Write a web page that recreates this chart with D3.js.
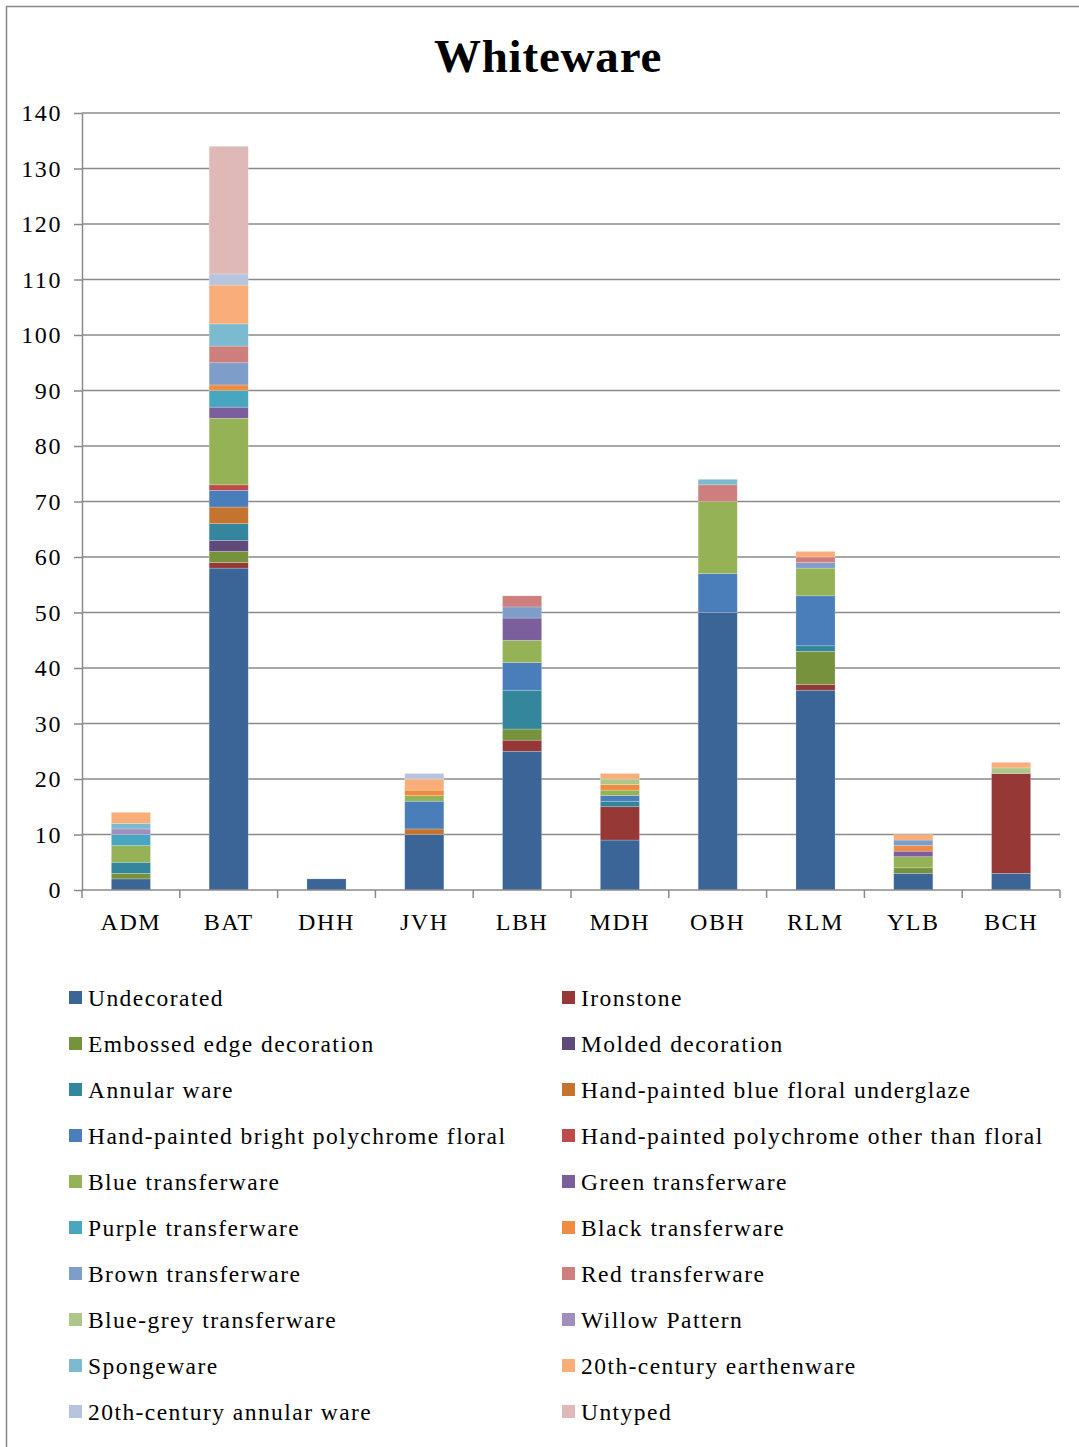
<!DOCTYPE html>
<html>
<head>
<meta charset="utf-8">
<script src="https://cdnjs.cloudflare.com/ajax/libs/d3/7.8.5/d3.min.js"></script>
<style>
  body { margin: 0; background: #fff; }
  svg text { font-family: "Liberation Serif", "Times New Roman", serif; fill: #000; }
</style>
</head>
<body>
<div id="chart"></div>
<script>
// categories (sites)
const sites = ["ADM","BAT","DHH","JVH","LBH","MDH","OBH","RLM","YLB","BCH"];

// ware types, in stacking order
const wares = [
  "Undecorated","Ironstone","Embossed edge decoration","Molded decoration",
  "Annular ware","Hand-painted blue floral underglaze","Hand-painted bright polychrome floral",
  "Hand-painted polychrome other than floral","Blue transferware","Green transferware",
  "Purple transferware","Black transferware","Brown transferware","Red transferware",
  "Blue-grey transferware","Willow Pattern","Spongeware","20th-century earthenware",
  "20th-century annular ware","Untyped"
];

const wareColors = [
  "#3c6597","#953836","#77923d","#604a7b","#33869c","#c4742f","#4a7ebb","#bd4b48",
  "#95b356","#7b5f9d","#49a6c0","#ef8c3f","#7f9dc9","#cd7f7d","#adc78a","#a08fbe",
  "#7bbacf","#f9ad79","#b6c4df","#dfb8b8"
];

// counts per ware, one value per site (same order as sites)
const undecorated   = [2, 58, 2, 10, 25, 9, 50, 36, 3, 3];
const ironstone     = [0, 1, 0, 0, 2, 6, 0, 1, 0, 18];
const embossed      = [1, 2, 0, 0, 2, 0, 0, 6, 1, 0];
const molded        = [0, 2, 0, 0, 0, 0, 0, 0, 0, 0];
const annular       = [2, 3, 0, 0, 7, 1, 0, 1, 0, 0];
const hpBlueFloral  = [0, 3, 0, 1, 0, 0, 0, 0, 0, 0];
const hpBrightPoly  = [0, 3, 0, 5, 5, 1, 7, 9, 0, 0];
const hpPolyOther   = [0, 1, 0, 0, 0, 0, 0, 0, 0, 0];
const blueTransfer  = [3, 12, 0, 1, 4, 1, 13, 5, 2, 0];
const greenTransfer = [0, 2, 0, 0, 4, 0, 0, 0, 1, 0];
const purpleTransfer= [2, 3, 0, 0, 0, 0, 0, 0, 0, 0];
const blackTransfer = [0, 1, 0, 1, 0, 1, 0, 0, 1, 0];
const brownTransfer = [0, 4, 0, 0, 2, 0, 0, 1, 1, 0];
const redTransfer   = [0, 3, 0, 0, 2, 0, 3, 1, 0, 0];
const blueGrey      = [0, 0, 0, 0, 0, 1, 0, 0, 0, 1];
const willow        = [1, 0, 0, 0, 0, 0, 0, 0, 0, 0];
const spongeware    = [1, 4, 0, 0, 0, 0, 1, 0, 0, 0];
const earthenware20 = [2, 7, 0, 2, 0, 1, 0, 1, 1, 1];
const annular20     = [0, 2, 0, 1, 0, 0, 0, 0, 0, 0];
const untyped       = [0, 23, 0, 0, 0, 0, 0, 0, 0, 0];

const yTicks = [0,10,20,30,40,50,60,70,80,90,100,110,120,130,140];

const series = [undecorated, ironstone, embossed, molded, annular, hpBlueFloral, hpBrightPoly,
  hpPolyOther, blueTransfer, greenTransfer, purpleTransfer, blackTransfer, brownTransfer,
  redTransfer, blueGrey, willow, spongeware, earthenware20, annular20, untyped];

// build table for d3.stack
const data = sites.map((s, i) => {
  let row = { site: s };
  wares.forEach((w, j) => { row[w] = series[j][i]; });
  return row;
});

const width = 1079, height = 1447;
const margin = { top: 113, right: 19, left: 82, bottom: 557 };

const svg = d3.select("#chart").append("svg")
  .attr("width", width)
  .attr("height", height);

// outer frame
svg.append("rect")
  .attr("x", 6.5).attr("y", 6.5)
  .attr("width", width + 10).attr("height", height)
  .attr("fill", "none")
  .attr("stroke", "#888")
  .attr("stroke-width", 1.5);

svg.append("text")
  .attr("x", 548).attr("y", 72)
  .attr("text-anchor", "middle")
  .style("font-size", "47px")
  .style("font-weight", "bold")
  .style("letter-spacing", "0.8px")
  .text("Whiteware");

const x = d3.scaleBand()
  .domain(sites)
  .range([margin.left, width - margin.right])
  .paddingInner(0.6)
  .paddingOuter(0.3);

const y = d3.scaleLinear()
  .domain([0, 140])
  .range([height - margin.bottom, margin.top]);

const color = d3.scaleOrdinal().domain(wares).range(wareColors);

// gridlines
svg.append("g")
  .selectAll("line")
  .data(yTicks.slice(1))
  .enter().append("line")
  .attr("x1", margin.left).attr("x2", width - margin.right)
  .attr("y1", d => y(d)).attr("y2", d => y(d))
  .attr("stroke", "#8a8a8a")
  .attr("stroke-width", 1.5);

// y axis
const yAxis = d3.axisLeft(y).tickValues(yTicks).tickSize(8).tickSizeOuter(0).tickPadding(12);
const gy = svg.append("g")
  .attr("transform", `translate(${margin.left},0)`)
  .call(yAxis);
gy.selectAll("text").style("font-size", "24px").style("letter-spacing", "1.6px");
gy.selectAll("line, path").attr("stroke", "#8a8a8a").attr("stroke-width", 1.5);

// stacked bars
const stack = d3.stack().keys(wares);
svg.selectAll(".serie")
  .data(stack(data))
  .enter().append("g")
  .attr("class", "serie")
  .attr("fill", d => color(d.key))
  .selectAll("rect")
  .data(d => d.filter(v => v[1] > v[0]))
  .enter().append("rect")
  .attr("x", d => x(d.data.site))
  .attr("y", d => y(d[1]))
  .attr("width", x.bandwidth())
  .attr("height", d => y(d[0]) - y(d[1]))
  .attr("stroke", "rgba(255,255,255,0.35)")
  .attr("stroke-width", 0.6);

// x axis with ticks at band boundaries
const bounds = d3.range(sites.length + 1).map(i => margin.left + i * (width - margin.right - margin.left) / sites.length);
const gx = svg.append("g");
gx.append("line")
  .attr("x1", margin.left).attr("x2", width - margin.right)
  .attr("y1", y(0)).attr("y2", y(0))
  .attr("stroke", "#8a8a8a").attr("stroke-width", 1.5);
gx.selectAll(".tk")
  .data(bounds)
  .enter().append("line")
  .attr("x1", d => d).attr("x2", d => d)
  .attr("y1", y(0)).attr("y2", y(0) + 8)
  .attr("stroke", "#8a8a8a").attr("stroke-width", 1.5);
gx.selectAll("text")
  .data(sites)
  .enter().append("text")
  .attr("x", d => x(d) + x.bandwidth() / 2)
  .attr("y", 930)
  .attr("text-anchor", "middle")
  .style("font-size", "24px")
  .style("letter-spacing", "1.6px")
  .text(d => d);

// legend: two columns, row-major
const legend = svg.append("g");
const items = legend.selectAll(".lg")
  .data(wares)
  .enter().append("g")
  .attr("transform", (d, i) => `translate(${i % 2 === 0 ? 69 : 562},${998 + Math.floor(i / 2) * 46})`);
items.append("rect")
  .attr("x", 0).attr("y", -7)
  .attr("width", 13).attr("height", 13)
  .attr("fill", d => color(d));
items.append("text")
  .attr("x", 19).attr("y", 8)
  .style("font-size", "23.5px")
  .style("letter-spacing", "1.45px")
  .text(d => d);
</script>
</body>
</html>
